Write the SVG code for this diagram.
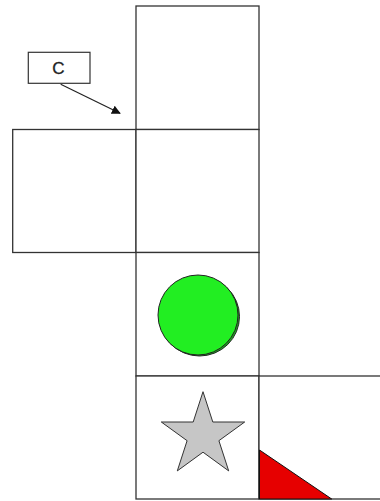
<svg xmlns="http://www.w3.org/2000/svg" width="380" height="501" viewBox="0 0 380 501">
  <defs>
    <style>
      .cell{fill:#ffffff;stroke:#333333;stroke-width:1.3}
      .lbl{fill:#ffffff;stroke:#333333;stroke-width:1.2}
      .txt{font-family:"Liberation Sans",Arial,sans-serif;font-size:17px;fill:#222222;text-anchor:middle;stroke:#222222;stroke-width:0.3}
      .conn{stroke:#222222;stroke-width:1.2;fill:none}
    </style>
    <marker id="arr" viewBox="0 0 10 10" refX="9" refY="5" markerWidth="9" markerHeight="9" markerUnits="userSpaceOnUse" orient="auto">
      <path d="M0,0 L10,5 L0,10 Z" fill="#111111"/>
    </marker>
  </defs>
  <rect width="380" height="501" fill="#ffffff"/>
  <g id="cell-top"><rect class="cell" x="136" y="6" width="123" height="123.5"/></g>
  <g id="cell-left"><rect class="cell" x="12.7" y="129.5" width="123.3" height="123"/></g>
  <g id="cell-mid"><rect class="cell" x="136" y="129.5" width="123" height="123"/></g>
  <g id="cell-circle">
    <rect class="cell" x="136" y="252.5" width="123" height="123.5"/>
    <ellipse cx="199.5" cy="316.5" rx="40" ry="39.5" fill="#1ea81e" stroke="#222222" stroke-width="1"/>
    <ellipse cx="198" cy="315" rx="40" ry="40" fill="#22ee22" stroke="#222222" stroke-width="1"/>
  </g>
  <g id="cell-star">
    <rect class="cell" x="136" y="376" width="123" height="123"/>
    <polygon points="203,391.7 212.8,422 244.7,422 218.9,440.7 228.7,470.9 203,452.2 177.3,470.9 187.1,440.7 161.3,422 193.2,422" fill="#c6c6c6" stroke="#333333" stroke-width="1"/>
  </g>
  <g id="cell-triangle">
    <rect class="cell" x="259" y="376" width="130" height="123"/>
    <polygon points="259.5,450 259.5,499 331.7,499" fill="#e60000" stroke="#111111" stroke-width="1"/>
  </g>
  <g id="label-c">
    <rect class="lbl" x="28.3" y="52.3" width="61.7" height="31"/>
    <text class="txt" x="58.3" y="73.5">C</text>
  </g>
  <g id="connectors">
    <line class="conn" x1="60.7" y1="84.3" x2="120" y2="113.3" marker-end="url(#arr)"/>
  </g>
</svg>
